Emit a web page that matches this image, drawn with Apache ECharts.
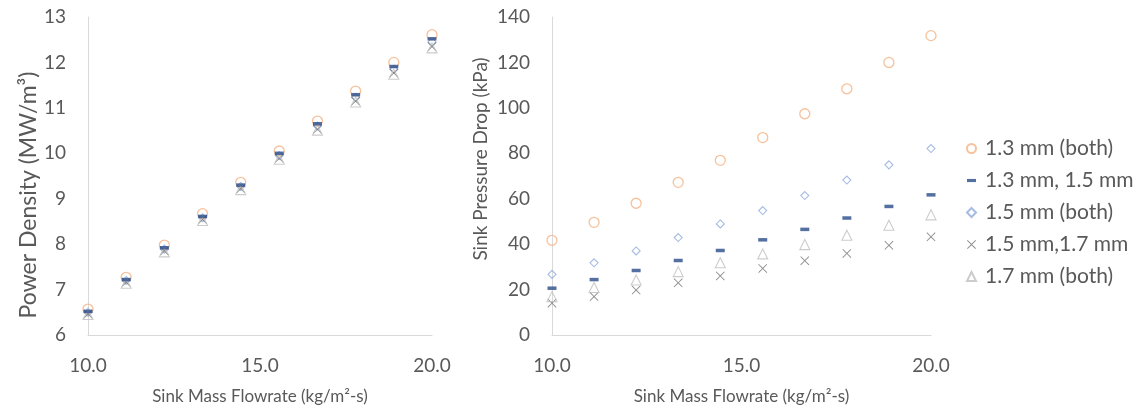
<!DOCTYPE html>
<html>
<head>
<meta charset="utf-8">
<script src="https://cdn.jsdelivr.net/npm/echarts@6/dist/echarts.min.js"></script>
<style>
  html, body { margin: 0; padding: 0; background: #fff; }
  #chart { width: 1142px; height: 410px; }
</style>
</head>
<body>
<div id="chart"></div>
<script>
// Sink mass flowrate (kg/m2-s), shared by both panels
const flowrate = [10.0, 11.11, 12.22, 13.33, 14.44, 15.56, 16.67, 17.78, 18.89, 20.0];

const seriesNames = ['1.3 mm (both)', '1.3 mm, 1.5 mm', '1.5 mm (both)', '1.5 mm,1.7 mm', '1.7 mm (both)'];

// Power density (MW/m3), left panel
const powerBoth13 = [6.57, 7.27, 7.98, 8.67, 9.36, 10.05, 10.71, 11.37, 12.0, 12.61];
const power13_15 = [6.52, 7.22, 7.92, 8.61, 9.30, 10.0, 10.65, 11.29, 11.91, 12.52];
const powerBoth15 = [6.50, 7.20, 7.89, 8.58, 9.27, 9.95, 10.60, 11.23, 11.85, 12.45];
const power15_17 = [6.46, 7.16, 7.85, 8.54, 9.22, 9.89, 10.53, 11.15, 11.77, 12.35];
const powerBoth17 = [6.45, 7.14, 7.83, 8.52, 9.20, 9.87, 10.51, 11.13, 11.74, 12.32];

// Sink pressure drop (kPa), right panel
const dropBoth13 = [41.7, 49.6, 58.0, 67.2, 76.9, 86.9, 97.4, 108.4, 120.0, 131.8];
const drop13_15 = [20.6, 24.4, 28.4, 32.8, 37.2, 41.9, 46.5, 51.5, 56.6, 61.7];
const dropBoth15 = [26.7, 31.8, 37.0, 42.9, 48.9, 54.8, 61.4, 68.2, 74.9, 82.1];
const drop15_17 = [14.0, 16.9, 19.8, 23.0, 26.0, 29.3, 32.7, 35.9, 39.5, 43.2];
const dropBoth17 = [16.9, 20.9, 24.2, 27.9, 31.8, 35.7, 39.8, 43.9, 48.3, 52.9];

const FONT = 'Lato, "Open Sans", sans-serif';
const TEXT = '#595959';

const crossPath = 'path://M0,0.7L0.7,0L5,4.3L9.3,0L10,0.7L5.7,5L10,9.3L9.3,10L5,5.7L0.7,10L0,9.3L4.3,5Z';
const dashPath = 'path://M0,0L10,0L10,3.5L0,3.5Z';

const styles = [
  { symbol: 'circle', size: 10, item: { color: 'rgba(0,0,0,0)', borderColor: '#F4B183', borderWidth: 1.3 } },
  { symbol: 'rect', size: [9, 3.5], item: { color: '#294C8A' } },
  { symbol: 'diamond', size: 8, item: { color: 'rgba(0,0,0,0)', borderColor: '#8FAADC', borderWidth: 1.1 } },
  { symbol: crossPath, size: 9, item: { color: '#6f6f6f' } },
  { symbol: 'triangle', size: 10, item: { color: 'rgba(0,0,0,0)', borderColor: '#BFBFBF', borderWidth: 1.1 } }
];

const legendIcons = ['circle', dashPath, 'diamond', crossPath, 'triangle'];

const pair = (ys) => flowrate.map((x, i) => [x, ys[i]]);

const leftData = [powerBoth13, power13_15, powerBoth15, power15_17, powerBoth17];
const rightData = [dropBoth13, drop13_15, dropBoth15, drop15_17, dropBoth17];

function makeSeries(dataSets, axisIndex) {
  return dataSets.map((ys, k) => ({
    name: seriesNames[k],
    type: 'scatter',
    xAxisIndex: axisIndex,
    yAxisIndex: axisIndex,
    symbol: styles[k].symbol,
    symbolSize: styles[k].size,
    itemStyle: styles[k].item,
    z: k === 1 ? 5 : 3,
    silent: true,
    data: pair(ys)
  }));
}

function xAxis(gridIndex) {
  return {
    type: 'value',
    gridIndex,
    min: 10,
    max: 20,
    interval: 5,
    name: 'Sink Mass Flowrate (kg/m²-s)',
    nameLocation: 'middle',
    nameGap: 53,
    nameTextStyle: { fontFamily: FONT, fontSize: 17, color: TEXT },
    axisLine: { show: true, lineStyle: { color: '#d9d9d9', width: 1 } },
    axisTick: { show: false },
    splitLine: { show: false },
    axisLabel: {
      fontFamily: FONT, fontSize: 19, color: TEXT, margin: 21,
      formatter: (v) => v.toFixed(1)
    }
  };
}

function yAxis(gridIndex, min, max, interval, name, nameGap, fontSize, padding) {
  return {
    type: 'value',
    gridIndex,
    min, max, interval,
    name,
    nameLocation: 'middle',
    nameGap,
    nameTextStyle: { fontFamily: FONT, fontSize, color: TEXT, padding },
    axisLine: { show: true, lineStyle: { color: '#d9d9d9', width: 1 } },
    axisTick: { show: false },
    splitLine: { show: false },
    axisLabel: { fontFamily: FONT, fontSize: 19, color: TEXT, margin: 22 }
  };
}

const chart = echarts.init(document.getElementById('chart'), null, { renderer: 'canvas' });

chart.setOption({
  animation: false,
  backgroundColor: '#fff',
  grid: [
    { left: 88, top: 17, width: 344, height: 320 },
    { left: 552, top: 17, width: 379, height: 320 }
  ],
  xAxis: [xAxis(0), xAxis(1)],
  yAxis: [
    yAxis(0, 6, 13, 1, 'Power Density (MW/m³)', 47, 23, [0, 38, 0, 0]),
    yAxis(1, 0, 140, 20, 'Sink Pressure Drop (kPa)', 62, 19, [0, 0, 0, 34])
  ],
  legend: {
    orient: 'vertical',
    left: 961,
    top: 133,
    itemWidth: 9,
    itemHeight: 9,
    itemGap: 11,
    textStyle: { fontFamily: FONT, fontSize: 21, color: TEXT, padding: [0, 0, 0, 4] },
    data: seriesNames.map((name, k) => ({ name, icon: legendIcons[k] }))
  },
  series: [...makeSeries(leftData, 0), ...makeSeries(rightData, 1)]
});
</script>
</body>
</html>
